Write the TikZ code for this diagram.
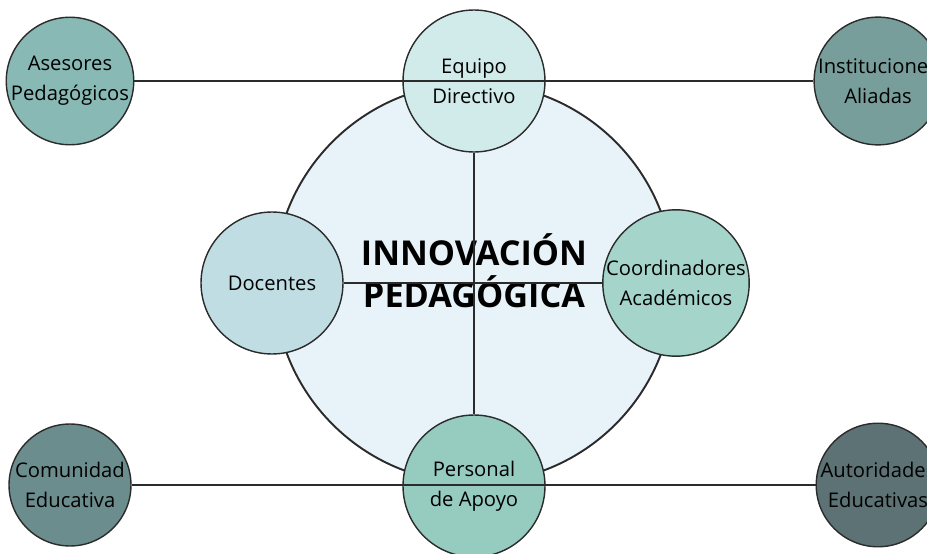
\documentclass[tikz,border=0pt]{standalone}
\usepackage{fontspec}
\setmainfont{Open Sans}
\definecolor{fondo}{HTML}{E8F3F9}
\definecolor{equipoc}{HTML}{D1EAEA}
\definecolor{docc}{HTML}{BFDDE3}
\definecolor{coordc}{HTML}{A5D5CA}
\definecolor{persc}{HTML}{96CBC0}
\definecolor{asesc}{HTML}{88B9B5}
\definecolor{instc}{HTML}{789E9C}
\definecolor{comc}{HTML}{6C8D8E}
\definecolor{autc}{HTML}{5D7274}
\definecolor{borde}{HTML}{2B2B2B}
\begin{document}
\begin{tikzpicture}[x=0.02cm,y=-0.02cm,
		rol/.style={circle,draw=borde,line width=0.8pt,minimum size=2.84cm,inner sep=0pt,
			align=center,font=\fontsize{11.5}{17}\selectfont},
		externo/.style={rol,minimum size=2.44cm}]
		\useasboundingbox (0,0) rectangle (927,554);
		% Circulo central
			\node [circle,draw=borde,line width=1.1pt,fill=fondo,minimum size=8cm] (centro) at (474,283) {};
			\node [align=center,font=\fontsize{19.5}{24}\selectfont\bfseries] (titulo) at (474,271) {INNOVACIÓN\\PEDAGÓGICA};
			
		% Roles internos
			\node [rol,fill=equipoc] (equipo) at (474,81) {Equipo\\Directivo};
			\node [rol,fill=docc] (docentes) at (272,283) {Docentes};
			\node [rol,fill=coordc] (coord) at (676,283) {Coordinadores\\Académicos};
			\node [rol,fill=persc] (personal) at (474,486) {Personal\\de Apoyo};
			
		% Actores externos
			\node [externo,fill=asesc] (asesores) at (70,81) {Asesores\\Pedagógicos};
			\node [externo,fill=instc] (instituciones) at (878,81) {Instituciones\\Aliadas};
			\node [externo,fill=comc] (comunidad) at (70,485) {Comunidad\\Educativa};
			\node [externo,fill=autc] (autoridades) at (878,485) {Autoridades\\Educativas};
			
		% Conexiones
			\draw [borde,line width=0.8pt] (asesores) -- (instituciones);
			\draw [borde,line width=0.8pt] (comunidad) -- (autoridades);
			\draw [borde,line width=0.8pt] (equipo) -- (personal);
			\draw [borde,line width=0.8pt] (docentes) -- (coord);
			
		\end{tikzpicture}
\end{document}
